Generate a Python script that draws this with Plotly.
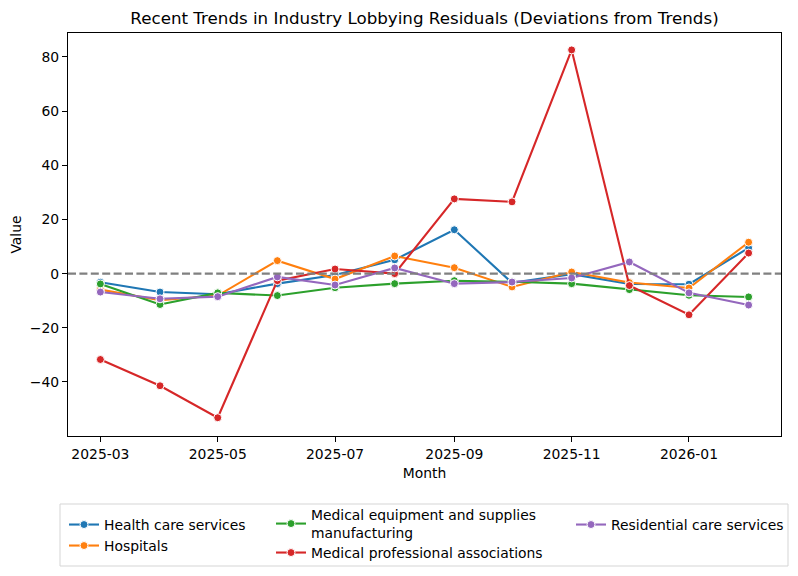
import plotly.graph_objects as go

months = ['2025-03-01', '2025-04-01', '2025-05-01', '2025-06-01', '2025-07-01', '2025-08-01',
          '2025-09-01', '2025-10-01', '2025-11-01', '2025-12-01', '2026-01-01', '2026-02-01']

health_care = [-3.2, -6.8, -7.6, -3.7, -0.5, 5.1, 16.2, -3.4, -0.2, -3.8, -3.9, 9.5]
hospitals = [-5.9, -9.8, -8.1, 4.8, -2.0, 6.5, 2.2, -4.9, 0.6, -3.3, -5.3, 11.6]
med_equipment = [-3.8, -11.4, -7.1, -8.1, -5.2, -3.7, -2.6, -3.0, -3.7, -5.9, -8.0, -8.6]
med_professional = [-31.7, -41.4, -53.2, -2.6, 1.7, 0.0, 27.6, 26.5, 82.6, -4.4, -15.2, 7.6]
residential = [-6.8, -9.3, -8.5, -1.2, -4.2, 2.1, -3.7, -3.1, -1.6, 4.3, -7.1, -11.6]

series_names = ['Health care services', 'Hospitals',
                'Medical equipment and supplies<br>manufacturing',
                'Medical professional associations', 'Residential care services']
series_values = [health_care, hospitals, med_equipment, med_professional, residential]
colors = ['#1f77b4', '#ff7f0e', '#2ca02c', '#d62728', '#9467bd']

# figure geometry (pixels)
W, H = 798, 576
L, R, T, B = 68, 17, 33, 140
PW, PH = W - L - R, H - T - B


def px_x(px):
    return (px - L) / PW


def px_y(py):
    return (H - B - py) / PH


# legend placement (left px of item, center y px)
legend_pos = [(64, 525), (64, 546), (271, 524), (271, 553), (571, 525)]
legend_ids = ['legend', 'legend2', 'legend3', 'legend4', 'legend5']

FS = 13.9
fig = go.Figure()
for name, vals, col, lid in zip(series_names, series_values, colors, legend_ids):
    fig.add_trace(go.Scatter(
        x=months, y=vals, name=name, mode='lines+markers',
        line=dict(color=col, width=2.1),
        marker=dict(color=col, size=8, line=dict(color='white', width=1)),
        legend=lid,
    ))

layout_legends = {}
for lid, (lx, ly) in zip(legend_ids, legend_pos):
    layout_legends[lid] = dict(
        x=px_x(lx), y=px_y(ly), xanchor='left', yanchor='middle',
        xref='paper', yref='paper',
        bgcolor='rgba(0,0,0,0)', borderwidth=0,
        font=dict(family='DejaVu Sans', size=FS, color='black'),
    )

fig.update_layout(
    width=W, height=H,
    margin=dict(l=L, r=R, t=T, b=B, autoexpand=False),
    paper_bgcolor='white', plot_bgcolor='white',
    font=dict(family='DejaVu Sans', size=FS, color='black'),
    title=dict(text='Recent Trends in Industry Lobbying Residuals (Deviations from Trends)',
               x=0.5, xref='paper', y=1 - 18 / H, yref='container',
               xanchor='center', yanchor='middle',
               font=dict(family='DejaVu Sans', size=16.7, color='black')),
    xaxis=dict(
        type='date',
        range=['2025-02-12 04:00', '2026-02-17 20:00'],
        tick0='2025-03-01', dtick='M2', tickformat='%Y-%m',
        ticks='outside', ticklen=5, tickwidth=1.1, tickcolor='black',
        showgrid=False, zeroline=False,
        showline=True, linecolor='black', linewidth=1.1, mirror=True,
        title=dict(text='Month', standoff=7, font=dict(size=FS)),
        tickfont=dict(size=FS),
    ),
    yaxis=dict(
        range=[-59.95, 88.85],
        tick0=0, dtick=20,
        ticks='outside', ticklen=5, tickwidth=1.1, tickcolor='black',
        showgrid=False, zeroline=False,
        showline=True, linecolor='black', linewidth=1.1, mirror=True,
        title=dict(text='Value', standoff=4, font=dict(size=FS)),
        tickfont=dict(size=FS),
    ),
    showlegend=True,
    shapes=[
        dict(type='line', xref='paper', x0=0, x1=1, yref='y', y0=0, y1=0,
             line=dict(color='#808080', width=2.1, dash='8px,3.4px'), layer='above'),
        dict(type='rect', xref='paper', yref='paper',
             x0=px_x(60), x1=px_x(788), y0=px_y(504), y1=px_y(566),
             line=dict(color='#d5d5d5', width=1), fillcolor='rgba(255,255,255,0.8)',
             layer='below'),
    ],
    **layout_legends,
)

fig.write_html('out.html')
